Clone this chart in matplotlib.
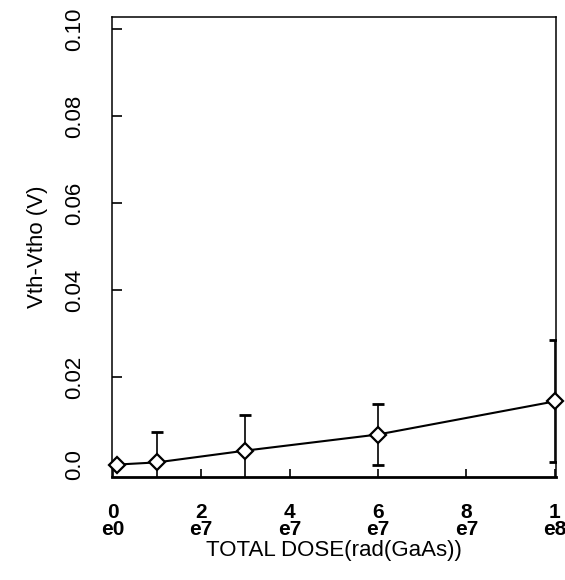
import matplotlib
matplotlib.use("Agg")
import matplotlib.pyplot as plt
import numpy as np

plt.rcParams['font.family'] = ['Liberation Sans', 'DejaVu Sans']

# Threshold-voltage shift versus accumulated total dose
dose = [1e6, 1e7, 3e7, 6e7, 1e8]
dvth = [0.0, 0.0005, 0.0032, 0.0069, 0.0145]
dvth_err = [0.0, 0.0069, 0.0081, 0.0071, 0.014]

x_ticks = [0, 2e7, 4e7, 6e7, 8e7, 1e8]
x_tick_labels = ["0\ne0", "2\ne7", "4\ne7", "6\ne7", "8\ne7", "1\ne8"]
y_ticks = [0.0, 0.02, 0.04, 0.06, 0.08, 0.10]
y_tick_labels = ["0.0", "0.02", "0.04", "0.06", "0.08", "0.10"]

fig = plt.figure(figsize=(5.65, 5.8), dpi=100)
ax = fig.add_axes([0.198, 0.178, 0.786, 0.793])

ax.errorbar(dose, dvth, yerr=dvth_err, fmt='none', ecolor='black',
            elinewidth=1.2, capsize=4.5, capthick=2.0)
ax.plot(dose, dvth, color='black', lw=1.5, marker='D', ms=8.5,
        mfc='white', mec='black', mew=1.6, clip_on=False, zorder=3)

ax.set_xlim(-0.002e8, 1.003e8)
ax.set_ylim(-0.0028, 0.1028)

ax.set_xticks(x_ticks)
ax.set_xticklabels(x_tick_labels, fontsize=15, fontweight='bold',
                   linespacing=0.85)
ax.set_yticks(y_ticks)
ax.set_yticklabels(y_tick_labels, fontsize=16, rotation=90, va='center')

ax.tick_params(axis='x', direction='in', length=6, width=1.2, pad=19)
ax.tick_params(axis='y', direction='in', length=7, width=1.2, pad=19)

for side in ['left', 'top', 'right']:
    ax.spines[side].set_linewidth(1.1)
ax.spines['bottom'].set_linewidth(2.0)

ax.set_xlabel("TOTAL DOSE(rad(GaAs))", fontsize=16, labelpad=1)
ax.set_ylabel("Vth-Vtho (V)", fontsize=16, labelpad=12)

fig.savefig("out.png", dpi=100)
